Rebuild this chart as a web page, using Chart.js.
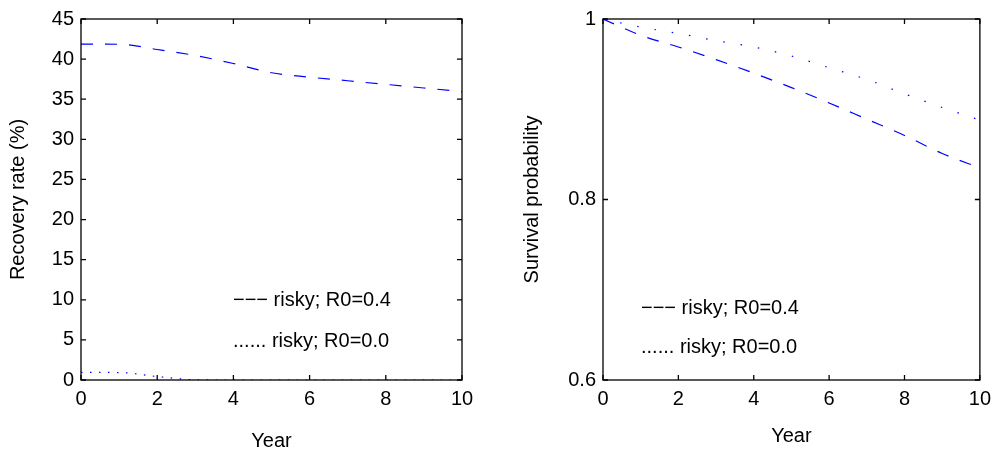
<!DOCTYPE html>
<html>
<head>
<meta charset="utf-8">
<script src="https://cdn.jsdelivr.net/npm/chart.js@4.4.1/dist/chart.umd.min.js"></script>
<style>
  html, body { margin: 0; padding: 0; background: #fff; }
  .panel { position: absolute; top: 0; width: 499px; height: 457px; }
  #left { left: 0; }
  #right { left: 499px; }
</style>
</head>
<body>
<div class="panel" id="left"><canvas id="recoveryChart" width="499" height="457"></canvas></div>
<div class="panel" id="right"><canvas id="survivalChart" width="499" height="457"></canvas></div>
<script>
  // données
  const years = [0, 1, 2, 3, 4, 5, 6, 7, 8, 9, 10];
  const recoveryRisky04 = [41.87, 41.85, 41.2, 40.45, 39.45, 38.3, 37.75, 37.3, 36.85, 36.4, 35.95];
  const recoveryRisky00 = [0.95, 0.93, 0.43, 0.03, 0, 0, 0, 0, 0, 0, 0];
  const survivalRisky04 = [1.0, 0.982, 0.969, 0.955, 0.940, 0.924, 0.907, 0.889, 0.871, 0.851, 0.835];
  const survivalRisky00 = [1.0, 0.991, 0.984, 0.976, 0.969, 0.959, 0.946, 0.933, 0.917, 0.902, 0.888];
  const legendLabels = ['−−− risky; R0=0.4', '...... risky; R0=0.0'];

  const FONT = '"Liberation Sans", Arial, sans-serif';
  Chart.defaults.font.family = FONT;
  Chart.defaults.font.size = 20;
  Chart.defaults.color = '#000';

  const toPoints = (ys) => years.map((x, i) => ({ x: x, y: ys[i] }));

  // cadre + graduations vers l'intérieur (style matlab)
  const boxPlugin = {
    id: 'box',
    afterDatasetsDraw(chart, args, opts) {
      const { ctx, chartArea: a, scales } = chart;
      ctx.save();
      ctx.strokeStyle = '#000';
      ctx.lineWidth = 1.3;
      ctx.strokeRect(a.left, a.top, a.right - a.left, a.bottom - a.top);
      const len = 5;
      ctx.beginPath();
      scales.x.ticks.forEach(t => {
        const px = scales.x.getPixelForValue(t.value);
        ctx.moveTo(px, a.bottom); ctx.lineTo(px, a.bottom - len);
        ctx.moveTo(px, a.top); ctx.lineTo(px, a.top + len);
      });
      scales.y.ticks.forEach(t => {
        const py = scales.y.getPixelForValue(t.value);
        ctx.moveTo(a.left, py); ctx.lineTo(a.left + len, py);
        ctx.moveTo(a.right, py); ctx.lineTo(a.right - len, py);
      });
      ctx.stroke();

      // légende en texte
      ctx.fillStyle = '#000';
      ctx.font = '20px ' + FONT;
      ctx.textBaseline = 'middle';
      ctx.textAlign = 'left';
      legendLabels.forEach((txt, i) => {
        ctx.fillText(txt, a.left + opts.dx, opts.rows[i]);
      });
      ctx.restore();
    }
  };

  function makeChart(id, cfg) {
    return new Chart(document.getElementById(id).getContext('2d'), {
      type: 'line',
      data: {
        datasets: [{
          data: toPoints(cfg.dashed),
          borderColor: '#0000ff',
          borderWidth: 1.2,
          borderDash: [12, 12],
          pointRadius: 0,
          cubicInterpolationMode: 'monotone',
          fill: false
        }, {
          data: toPoints(cfg.dotted),
          borderColor: '#0000ff',
          borderWidth: 1.2,
          borderDash: cfg.dot,
          pointRadius: 0,
          cubicInterpolationMode: 'monotone',
          fill: false
        }]
      },
      options: {
        responsive: false,
        animation: false,
        devicePixelRatio: 1,
        layout: { padding: { top: 14, right: cfg.padRight, left: 0, bottom: 0 } },
        plugins: {
          legend: { display: false },
          tooltip: { enabled: false },
          box: { dx: cfg.legendDx, rows: cfg.legendRows }
        },
        scales: {
          x: {
            type: 'linear',
            min: 0,
            max: 10,
            ticks: { stepSize: 2, padding: 7 },
            grid: { display: false, drawTicks: false },
            border: { display: false },
            title: { display: true, text: 'Year', padding: { top: 0, bottom: cfg.xTitlePad } },
            afterFit: (s) => { s.height = 77; }
          },
          y: {
            min: cfg.yMin,
            max: cfg.yMax,
            ticks: {
              stepSize: cfg.yStep,
              padding: 7,
              callback: (v) => String(+v.toFixed(2))
            },
            grid: { display: false, drawTicks: false },
            border: { display: false },
            title: { display: true, text: cfg.yTitle, padding: { top: cfg.yTitlePad, bottom: 0 } },
            afterFit: (s) => { s.width = cfg.yWidth; }
          }
        }
      },
      plugins: [boxPlugin]
    });
  }

  makeChart('recoveryChart', {
    dashed: recoveryRisky04,
    dotted: recoveryRisky00,
    dot: [1.5, 7.5],
    yMin: 0, yMax: 45, yStep: 5,
    yTitle: 'Recovery rate (%)',
    yWidth: 81, padRight: 37,
    xTitlePad: 3.3, yTitlePad: 6,
    legendDx: 152, legendRows: [300, 341]
  });

  makeChart('survivalChart', {
    dashed: survivalRisky04,
    dotted: survivalRisky00,
    dot: [1.5, 16],
    yMin: 0.6, yMax: 1, yStep: 0.2,
    yTitle: 'Survival probability',
    yWidth: 104, padRight: 15,
    xTitlePad: 8.3, yTitlePad: 21,
    legendDx: 38, legendRows: [308, 347]
  });
</script>
</body>
</html>
